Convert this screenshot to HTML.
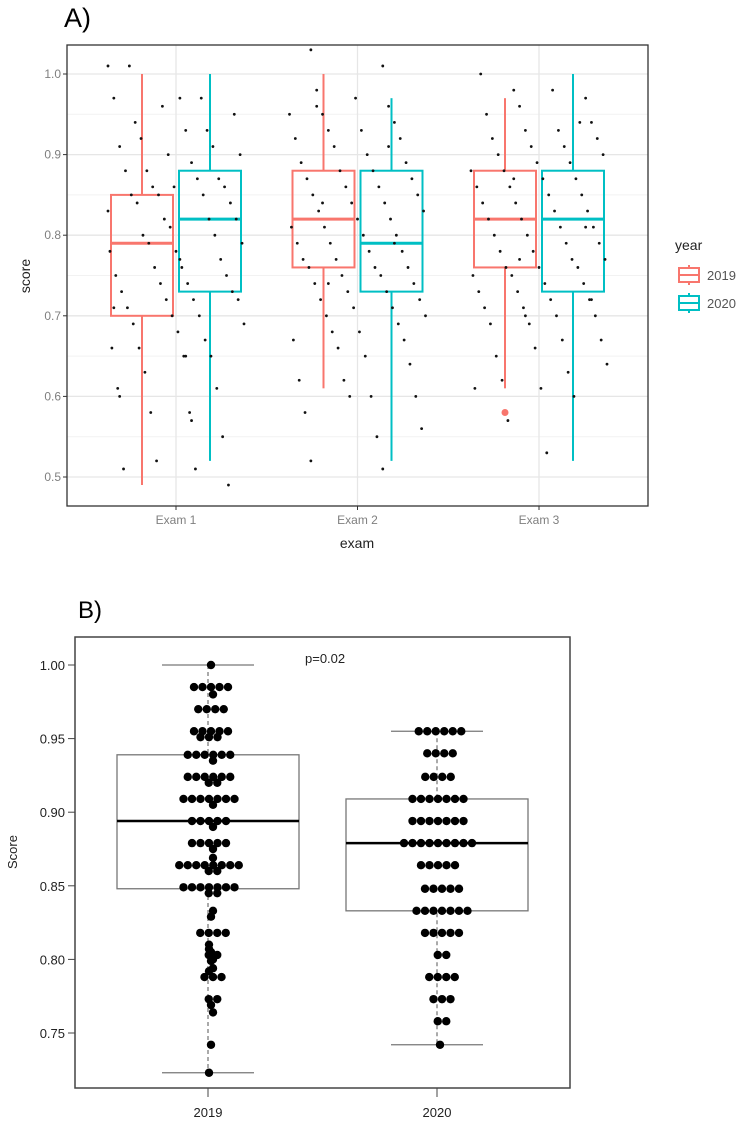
<!DOCTYPE html>
<html><head><meta charset="utf-8"><style>
body{margin:0;background:#fff;width:744px;height:1121px;overflow:hidden}
svg{display:block;font-family:"Liberation Sans",sans-serif}
</style></head><body>
<svg id="s" width="744" height="1121">
<text x="64" y="27" font-size="27" fill="#000">A)</text>
<text x="78" y="618" font-size="24" fill="#000">B)</text>
<g id="A"></g>
<g id="B"></g>
</svg>
<script>
// ---------- Panel A data ----------
const examCats = ["Exam 1","Exam 2","Exam 3"];
const yearCats = ["2019","2020"];
const aTicks = [0.5,0.6,0.7,0.8,0.9,1.0];
const aTickLabels = ["0.5","0.6","0.7","0.8","0.9","1.0"];
const boxLow  = [[0.49,0.52],[0.61,0.52],[0.61,0.52]];
const boxQ1   = [[0.70,0.73],[0.76,0.73],[0.76,0.73]];
const boxMed  = [[0.79,0.82],[0.82,0.79],[0.82,0.82]];
const boxQ3   = [[0.85,0.88],[0.88,0.88],[0.88,0.88]];
const boxHigh = [[1.00,1.00],[1.00,0.97],[0.97,1.00]];
const outliers = [[[],[]],[[],[]],[[0.58],[]]];
const jit1 = [1.01,0.97,0.97,0.93,0.91,0.89,0.88,0.87,0.85,0.85,0.84,0.82,0.80,0.80,0.79,0.77,0.76,0.75,0.74,0.73,0.72,0.72,0.70,0.69,0.68,0.66,0.65,0.61,0.58,0.51,0.51,1.01,0.97,0.94,0.93,0.92,0.91,0.88,0.87,0.86,0.86,0.85,0.84,0.82,0.82,0.81,0.79,0.78,0.78,0.76,0.75,0.74,0.73,0.72,0.71,0.70,0.69,0.67,0.66,0.65,0.63,0.61,0.58,0.55,0.52,0.49,0.96,0.95,0.90,0.90,0.86,0.83,0.77,0.71,0.65,0.60,0.57];
const jit2 = [1.03,1.01,0.98,0.96,0.95,0.94,0.93,0.92,0.91,0.89,0.88,0.87,0.86,0.85,0.84,0.83,0.82,0.81,0.80,0.79,0.78,0.77,0.76,0.76,0.75,0.74,0.73,0.72,0.71,0.70,0.69,0.68,0.67,0.66,0.64,0.62,0.60,0.60,0.56,0.97,0.95,0.93,0.92,0.90,0.89,0.88,0.87,0.86,0.85,0.84,0.83,0.82,0.81,0.80,0.79,0.78,0.77,0.76,0.75,0.74,0.73,0.72,0.71,0.70,0.68,0.67,0.65,0.62,0.60,0.58,0.55,0.52,0.51,0.96,0.91,0.84,0.79,0.74];
const jit3 = [0.98,0.97,0.96,0.94,0.93,0.92,0.91,0.90,0.89,0.88,0.87,0.86,0.85,0.84,0.83,0.82,0.81,0.80,0.79,0.78,0.77,0.76,0.76,0.75,0.74,0.73,0.72,0.71,0.70,0.69,0.67,0.66,0.64,0.61,0.61,0.53,1.00,0.98,0.95,0.93,0.92,0.91,0.90,0.89,0.88,0.87,0.86,0.85,0.84,0.83,0.82,0.81,0.80,0.79,0.78,0.77,0.76,0.75,0.74,0.73,0.72,0.71,0.70,0.69,0.67,0.65,0.63,0.62,0.60,0.57,0.94,0.87,0.81,0.77,0.72,0.70];
const jitters = [jit1,jit2,jit3];

// ---------- Panel B data ----------
const bCats = ["2019","2020"];
const bTicks = [0.75,0.80,0.85,0.90,0.95,1.00];
const bTickLabels = ["0.75","0.80","0.85","0.90","0.95","1.00"];
const bLow = [0.723,0.742], bQ1 = [0.848,0.833], bMed = [0.894,0.879], bQ3 = [0.939,0.909], bHigh = [1.00,0.955];
const pts2019 = [1.00,0.985,0.985,0.985,0.985,0.985,0.98,0.97,0.97,0.97,0.97,0.955,0.955,0.955,0.955,0.955,0.951,0.951,0.951,0.939,0.939,0.939,0.939,0.939,0.939,0.935,0.924,0.924,0.924,0.924,0.924,0.924,0.92,0.92,0.909,0.909,0.909,0.909,0.909,0.909,0.909,0.905,0.894,0.894,0.894,0.894,0.894,0.89,0.879,0.879,0.879,0.879,0.879,0.875,0.869,0.864,0.864,0.864,0.864,0.864,0.864,0.864,0.864,0.86,0.86,0.849,0.849,0.849,0.849,0.849,0.849,0.849,0.845,0.845,0.833,0.829,0.818,0.818,0.818,0.818,0.81,0.807,0.803,0.803,0.805,0.80,0.799,0.794,0.792,0.788,0.788,0.788,0.773,0.773,0.769,0.764,0.742,0.723];
const pts2020 = [0.955,0.955,0.955,0.955,0.955,0.955,0.94,0.94,0.94,0.94,0.924,0.924,0.924,0.924,0.909,0.909,0.909,0.909,0.909,0.909,0.909,0.894,0.894,0.894,0.894,0.894,0.894,0.894,0.879,0.879,0.879,0.879,0.879,0.879,0.879,0.879,0.879,0.864,0.864,0.864,0.864,0.864,0.848,0.848,0.848,0.848,0.848,0.833,0.833,0.833,0.833,0.833,0.833,0.833,0.818,0.818,0.818,0.818,0.818,0.803,0.803,0.788,0.788,0.788,0.788,0.773,0.773,0.773,0.758,0.758,0.742];
const bPoints = [pts2019,pts2020];

const NS="http://www.w3.org/2000/svg";
function mk(p,tag,at){const e=document.createElementNS(NS,tag);for(const k in at)e.setAttribute(k,at[k]);p.appendChild(e);return e;}

// ---------- Panel A ----------
(function(){
const g=document.getElementById('A');
const L=67,R=648,T=45,B=506;
const y=v=>74+(1.0-v)*806;
const x=i=>176+i*181.5;
const cols=["#F8766D","#00BFC4"];
let e=mk(g,'rect',{x:L,y:T,width:R-L,height:B-T,fill:'#fff'});

for(let v=0.55;v<1.0;v+=0.1){e=mk(g,'line',{x1:L,x2:R,y1:y(v),y2:y(v),stroke:'#f2f2f2','stroke-width':1});
}
aTicks.forEach((v,i)=>{e=mk(g,'line',{x1:L,x2:R,y1:y(v),y2:y(v),stroke:'#e6e6e6','stroke-width':1.3});

e=mk(g,'line',{x1:L-4,x2:L,y1:y(v),y2:y(v),stroke:'#333','stroke-width':1});

e=mk(g,'text',{x:L-6,y:y(v)+4,'text-anchor':'end','font-size':12,fill:'#7f7f7f'});e.textContent=aTickLabels[i];
});
examCats.forEach((c,i)=>{e=mk(g,'line',{x1:x(i),x2:x(i),y1:T,y2:B,stroke:'#e6e6e6','stroke-width':1.3});

e=mk(g,'line',{x1:x(i),x2:x(i),y1:B,y2:B+4,stroke:'#333'});

e=mk(g,'text',{x:x(i),y:B+18,'text-anchor':'middle','font-size':12,fill:'#7f7f7f'});e.textContent=c;
});
examCats.forEach((c,i)=>{yearCats.forEach((yr,j)=>{
 const cx=x(i)+(j?34:-34),hw=31,col=cols[j];
 e=mk(g,'line',{x1:cx,x2:cx,y1:y(boxHigh[i][j]),y2:y(boxQ3[i][j]),stroke:col,'stroke-width':2});
 
 e=mk(g,'line',{x1:cx,x2:cx,y1:y(boxQ1[i][j]),y2:y(boxLow[i][j]),stroke:col,'stroke-width':2});
 
 e=mk(g,'rect',{x:cx-hw,y:y(boxQ3[i][j]),width:2*hw,height:y(boxQ1[i][j])-y(boxQ3[i][j]),fill:'none',stroke:col,'stroke-width':2});
 
 e=mk(g,'line',{x1:cx-hw,x2:cx+hw,y1:y(boxMed[i][j]),y2:y(boxMed[i][j]),stroke:col,'stroke-width':3});
 
 outliers[i][j].forEach(v=>{e=mk(g,'circle',{cx:cx,cy:y(v),r:3.5,fill:col});
 });
});});
jitters.forEach((arr,i)=>{arr.forEach((v,k)=>{
 const off=(((k*37+i*11)%71)/70-0.5)*136;
 e=mk(g,'circle',{cx:x(i)+off,cy:y(v),r:1.4,fill:'#111'});
 });});
e=mk(g,'rect',{x:L,y:T,width:R-L,height:B-T,fill:'none',stroke:'#333','stroke-width':1.3});

e=mk(g,'text',{x:0,y:0,'font-size':14,fill:'#222','text-anchor':'middle',transform:'translate(30,276) rotate(-90)'});e.textContent='score';

e=mk(g,'text',{x:357,y:548,'font-size':14,fill:'#222','text-anchor':'middle'});e.textContent='exam';

e=mk(g,'text',{x:675,y:250,'font-size':14,fill:'#222'});e.textContent='year';

yearCats.forEach((yr,j)=>{const ky=275+j*28,col=cols[j];
 const lg=mk(g,'g',{});
 mk(lg,'line',{x1:689,x2:689,y1:ky-10,y2:ky+10,stroke:col,'stroke-width':2});
 mk(lg,'rect',{x:679,y:ky-7,width:20,height:14,fill:'#fff',stroke:col,'stroke-width':2});
 mk(lg,'line',{x1:679,x2:699,y1:ky,y2:ky,stroke:col,'stroke-width':2});
 const t=mk(lg,'text',{x:707,y:ky+5,'font-size':13,fill:'#555'});t.textContent=yr;});
})();

// ---------- Panel B ----------
(function(){
const g=document.getElementById('B');
const L=75,R=570,T=637,Bm=1088;
const y=v=>665+(1.0-v)*1472;
const x=i=>208+i*229;
let e;
bTicks.forEach((v,i)=>{e=mk(g,'line',{x1:L-7,x2:L,y1:y(v),y2:y(v),stroke:'#444'});
 
 e=mk(g,'text',{x:L-10,y:y(v)+5,'text-anchor':'end','font-size':13,fill:'#222'});e.textContent=bTickLabels[i];
 });
bCats.forEach((c,i)=>{const cx=x(i);
 e=mk(g,'line',{x1:cx,x2:cx,y1:Bm,y2:Bm+9,stroke:'#444'});
 
 e=mk(g,'text',{x:cx,y:Bm+29,'text-anchor':'middle','font-size':13,fill:'#222'});e.textContent=c;
 
 e=mk(g,'line',{x1:cx,x2:cx,y1:y(bHigh[i]),y2:y(bLow[i]),stroke:'#555','stroke-dasharray':'4,3'});
 
 [bHigh[i],bLow[i]].forEach(v=>{e=mk(g,'line',{x1:cx-46,x2:cx+46,y1:y(v),y2:y(v),stroke:'#777','stroke-width':1.3});
 });
 e=mk(g,'rect',{x:cx-91,y:y(bQ3[i]),width:182,height:y(bQ1[i])-y(bQ3[i]),fill:'#fff',stroke:'#777','stroke-width':1.3});
 
 e=mk(g,'line',{x1:cx-91,x2:cx+91,y1:y(bMed[i]),y2:y(bMed[i]),stroke:'#000','stroke-width':2.5});
 
 const groups={};bPoints[i].forEach(v=>{(groups[v]=groups[v]||[]).push(v);});
 Object.keys(groups).forEach(k=>{const n=groups[k].length;
  groups[k].forEach((v,m)=>{e=mk(g,'circle',{cx:cx+3+(m-(n-1)/2)*8.5+((+k*1000)%3-1)*2,cy:y(v),r:4.2,fill:'#000'});
  });});
});
e=mk(g,'rect',{x:L,y:T,width:R-L,height:Bm-T,fill:'none',stroke:'#444','stroke-width':1.5});

e=mk(g,'text',{x:0,y:0,'font-size':13,fill:'#222','text-anchor':'middle',transform:'translate(17,852) rotate(-90)'});e.textContent='Score';

e=mk(g,'text',{x:305,y:663,'font-size':13,fill:'#222'});e.textContent='p=0.02';

})();
</script>
</body></html>
